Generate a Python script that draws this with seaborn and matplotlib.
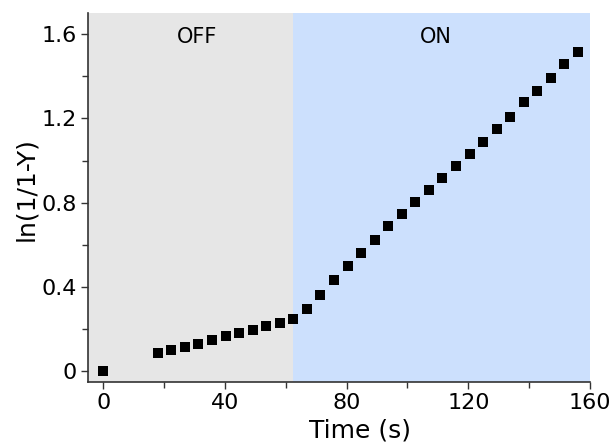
import matplotlib
matplotlib.use("Agg")
import matplotlib.pyplot as plt
import seaborn as sns
import pandas as pd
from matplotlib.ticker import MultipleLocator

sns.set_style("ticks")
plt.rcParams["font.family"] = ["DejaVu Sans"]
plt.rcParams["text.color"] = "black"
plt.rcParams["axes.labelcolor"] = "black"
plt.rcParams["xtick.labelcolor"] = "black"
plt.rcParams["ytick.labelcolor"] = "black"

# values
timeSec = [0, 17.9, 22.4, 26.8, 31.3, 35.7, 40.2, 44.6, 49.1, 53.5, 58.0, 62.5,
           66.9, 71.4, 75.8, 80.3, 84.7, 89.2, 93.6, 98.1, 102.5, 107.0, 111.5,
           115.9, 120.4, 124.8, 129.3, 133.7, 138.2, 142.6, 147.1, 151.5, 156.0]
lnValue = [0.0, 0.087, 0.100, 0.115, 0.131, 0.147, 0.168, 0.182, 0.198, 0.214, 0.230, 0.247,
           0.296, 0.364, 0.435, 0.499, 0.560, 0.623, 0.689, 0.747, 0.804, 0.861, 0.916,
           0.975, 1.030, 1.087, 1.152, 1.206, 1.279, 1.330, 1.393, 1.459, 1.513]
phaseNames = ["OFF", "ON"]
phaseStart = [-5, 62.5]
phaseEnd = [62.5, 160]
phaseColors = ["#e6e6e6", "#cce0fd"]

data = pd.DataFrame({"Time": timeSec, "Value": lnValue})

fig = plt.figure(figsize=(6.16, 4.43), dpi=100)
ax = fig.add_axes([0.1429, 0.1377, 0.8149, 0.833])

for name, x0, x1, col in zip(phaseNames, phaseStart, phaseEnd, phaseColors):
    ax.axvspan(x0, x1, color=col, lw=0, zorder=0)
    ax.text((x0 + x1) / 2 + (2 if name == "OFF" else -2), 1.585, name,
            ha="center", va="center", fontsize=15)

sns.scatterplot(x="Time", y="Value", data=data, marker="s", s=42, color="black",
                edgecolor="black", linewidth=0, ax=ax, zorder=3)

ax.set_xlim(-5, 160)
ax.set_ylim(-0.05, 1.7)
ax.xaxis.set_major_locator(MultipleLocator(40))
ax.xaxis.set_minor_locator(MultipleLocator(20))
ax.yaxis.set_major_locator(MultipleLocator(0.4))
ax.yaxis.set_minor_locator(MultipleLocator(0.2))
ax.set_yticks([0, 0.4, 0.8, 1.2, 1.6])
ax.set_yticklabels(["0", "0.4", "0.8", "1.2", "1.6"])

ax.tick_params(axis="both", which="major", length=5, width=1, labelsize=16, color="#333333", pad=3)
ax.tick_params(axis="both", which="minor", length=4, width=1, color="#333333")

for side in ["top", "right"]:
    ax.spines[side].set_visible(False)
for side in ["left", "bottom"]:
    ax.spines[side].set_color("#333333")
    ax.spines[side].set_linewidth(1.2)

ax.set_xlabel("Time (s)", fontsize=18)
ax.set_ylabel("ln(1/1-Y)", fontsize=18)
ax.xaxis.set_label_coords(0.542, -0.1)
ax.yaxis.set_label_coords(-0.1, 0.523)

fig.savefig("out.png", dpi=100)
